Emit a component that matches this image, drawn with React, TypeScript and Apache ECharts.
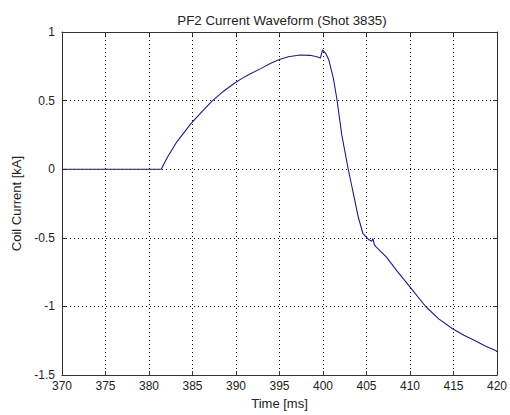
import React, { useEffect, useRef } from "react";
import * as echarts from "echarts";

const titleText = "PF2 Current Waveform (Shot 3835)";
const xName = "Time [ms]";
const yName = "Coil Current [kA]";

const timeMs = [
  370, 381.4, 382.1, 383.2, 384.8, 386.25, 387.3, 388.5, 389.85, 390.7, 391.55, 392.9, 394, 395, 396,
  397.4, 398.5, 399.3, 399.7, 399.95, 400.3, 400.65, 401.2, 401.6, 402.16, 402.9, 403.5, 404.06,
  404.6, 405.2, 405.6, 405.75, 405.9, 406.1, 407.3, 408.5, 409.9, 411.8, 413.3, 414.85, 416.2,
  417.5, 418.7, 419.85, 420,
];
const currentKA = [
  0, 0, 0.085, 0.2, 0.33, 0.43, 0.5, 0.565, 0.628, 0.662, 0.692, 0.735, 0.772, 0.8, 0.82,
  0.832, 0.83, 0.82, 0.81, 0.87, 0.845, 0.8, 0.66, 0.51, 0.25, 0.0, -0.18, -0.35,
  -0.47, -0.51, -0.525, -0.505, -0.55, -0.565, -0.64, -0.74, -0.85, -1.0, -1.09, -1.16, -1.21,
  -1.25, -1.29, -1.32, -1.33,
];

const xTicks = { min: 370, max: 420, interval: 5 };
const yTicks = { min: -1.5, max: 1, interval: 0.5 };

const FONT = "Liberation Sans, Arial, sans-serif";
const TXT = "#222";
const AX = "#333";

export default function App() {
  const ref = useRef<HTMLDivElement>(null);
  useEffect(() => {
    if (!ref.current) return;
    const chart = echarts.init(ref.current, undefined, { renderer: "svg" });
    const data = timeMs.map((t, i) => [t, currentKA[i]]);
    const axisLine = { show: true, onZero: false, lineStyle: { color: AX, width: 1 } };
    const tick = { show: true, inside: true, length: 4, lineStyle: { color: AX } };
    const grid = { show: true, lineStyle: { color: "#000", type: [1, 3], width: 1 } };
    chart.setOption({
      animation: false,
      backgroundColor: "#fff",
      title: {
        text: titleText,
        left: 277,
        textAlign: "center",
        top: 9,
        textStyle: { fontFamily: FONT, fontSize: 13.3, fontWeight: "normal", color: TXT },
      },
      grid: { left: 62, right: 9, top: 32, bottom: 38, containLabel: false },
      xAxis: [
        {
          type: "value",
          ...xTicks,
          position: "bottom",
          axisLine,
          axisTick: tick,
          splitLine: grid,
          axisLabel: { margin: 5, fontFamily: FONT, fontSize: 12, color: TXT },
          name: xName,
          nameLocation: "middle",
          nameGap: 21,
          nameTextStyle: { fontFamily: FONT, fontSize: 13, color: TXT },
        },
        {
          type: "value",
          ...xTicks,
          position: "top",
          axisLine,
          axisTick: tick,
          splitLine: { show: false },
          axisLabel: { show: false },
        },
      ],
      yAxis: [
        {
          type: "value",
          ...yTicks,
          position: "left",
          axisLine,
          axisTick: tick,
          splitLine: grid,
          axisLabel: { margin: 7, fontFamily: FONT, fontSize: 12, color: TXT },
          name: yName,
          nameLocation: "middle",
          nameGap: 35,
          nameTextStyle: { fontFamily: FONT, fontSize: 13, color: TXT },
        },
        {
          type: "value",
          ...yTicks,
          position: "right",
          axisLine,
          axisTick: tick,
          splitLine: { show: false },
          axisLabel: { show: false },
        },
      ],
      series: [
        {
          type: "line",
          xAxisIndex: 0,
          yAxisIndex: 0,
          data,
          showSymbol: false,
          symbol: "none",
          lineStyle: { color: "#1c1c8a", width: 1.1 },
        },
      ],
    });
    return () => chart.dispose();
  }, []);
  return <div ref={ref} style={{ width: 510, height: 415, position: "absolute", left: 0, top: 0 }} />;
}
